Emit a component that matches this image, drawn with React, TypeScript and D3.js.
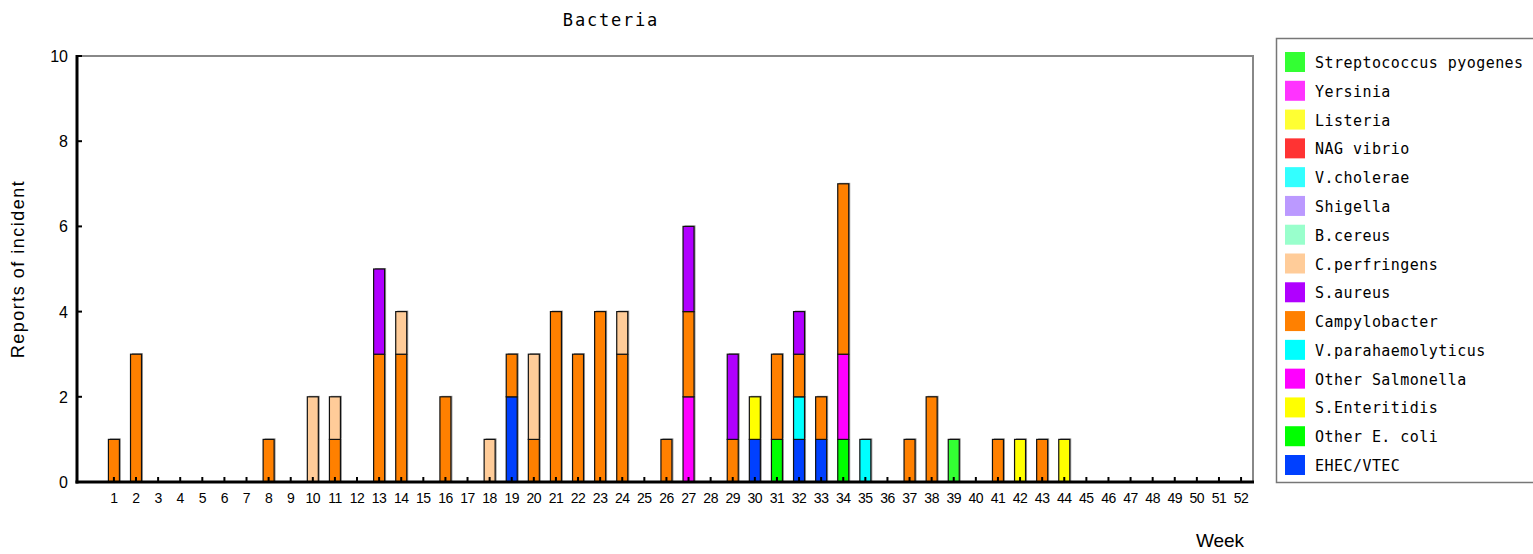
import { useEffect, useRef } from 'react';
import * as d3 from 'd3';

const W = 1533, H = 554;
const PLOT = { left: 77, right: 1253, top: 56, bottom: 482 };

const weeks = d3.range(1, 53);
const yTicks = [0, 2, 4, 6, 8, 10];

// [week, reports] per agent
const ehecVtec = [[19, 2], [30, 1], [32, 1], [33, 1]];
const otherEcoli = [[31, 1], [34, 1]];
const sEnteritidis = [[30, 1], [42, 1], [44, 1]];
const otherSalmonella = [[27, 2], [34, 2]];
const vParahaemolyticus = [[32, 1], [35, 1]];
const campylobacter = [
  [1, 1], [2, 3], [8, 1], [11, 1], [13, 3], [14, 3], [16, 2], [19, 1], [20, 1], [21, 4],
  [22, 3], [23, 4], [24, 3], [26, 1], [27, 2], [29, 1], [31, 2], [32, 1], [33, 1], [34, 4],
  [37, 1], [38, 2], [41, 1], [43, 1],
];
const sAureus = [[13, 2], [27, 2], [29, 2], [32, 1]];
const cPerfringens = [[10, 2], [11, 1], [14, 1], [18, 1], [20, 2], [24, 1]];
const bCereus: number[][] = [];
const shigella: number[][] = [];
const vCholerae: number[][] = [];
const nagVibrio: number[][] = [];
const listeria: number[][] = [];
const yersinia: number[][] = [];
const streptococcus = [[39, 1]];

// stacking order, bottom first
const series = [
  { name: 'EHEC/VTEC', color: '#0040ff', data: ehecVtec },
  { name: 'Other E. coli', color: '#00ff00', data: otherEcoli },
  { name: 'S.Enteritidis', color: '#ffff00', data: sEnteritidis },
  { name: 'Other Salmonella', color: '#ff00ff', data: otherSalmonella },
  { name: 'V.parahaemolyticus', color: '#00ffff', data: vParahaemolyticus },
  { name: 'Campylobacter', color: '#ff8000', data: campylobacter },
  { name: 'S.aureus', color: '#b000ff', data: sAureus },
  { name: 'C.perfringens', color: '#ffcc99', data: cPerfringens },
  { name: 'B.cereus', color: '#99ffcc', data: bCereus },
  { name: 'Shigella', color: '#bb99ff', data: shigella },
  { name: 'V.cholerae', color: '#33ffff', data: vCholerae },
  { name: 'NAG vibrio', color: '#ff3333', data: nagVibrio },
  { name: 'Listeria', color: '#ffff33', data: listeria },
  { name: 'Yersinia', color: '#ff33ff', data: yersinia },
  { name: 'Streptococcus pyogenes', color: '#33ff33', data: streptococcus },
];

export default function App() {
  const svgRef = useRef<SVGSVGElement>(null);

  useEffect(() => {
    document.body.style.margin = '0';
    const svg = d3.select(svgRef.current);
    svg.selectAll('*').remove();

    const table = weeks.map(w => {
      const row: any = { week: w };
      series.forEach(s => {
        const hit = s.data.find(d => d[0] === w);
        row[s.name] = hit ? hit[1] : 0;
      });
      return row;
    });
    const stacked = d3.stack().keys(series.map(s => s.name))(table);

    const x = d3.scaleLinear().domain([-0.67, 52.54]).range([PLOT.left, PLOT.right]);
    const y = d3.scaleLinear().domain([0, 10]).range([PLOT.bottom, PLOT.top]);
    const bw = 11;

    svg.append('rect').attr('width', W).attr('height', H).attr('fill', '#fff');

    // frame: gray top/right
    svg.append('path')
      .attr('d', `M${PLOT.left},${PLOT.top}H${PLOT.right}V${PLOT.bottom}`)
      .attr('fill', 'none').attr('stroke', '#888').attr('stroke-width', 2);

    // bars (gray drop shadow first, then fills)
    const bars = svg.append('g');
    stacked.forEach(layer => {
      layer.forEach((d, i) => {
        if (d[1] - d[0] <= 0) return;
        const cx = x(weeks[i]);
        bars.append('rect')
          .attr('x', cx - bw / 2 + 1.5).attr('y', y(d[1]) - 1)
          .attr('width', bw).attr('height', y(d[0]) - y(d[1]))
          .attr('fill', '#999');
      });
    });
    stacked.forEach((layer, li) => {
      layer.forEach((d, i) => {
        if (d[1] - d[0] <= 0) return;
        const cx = x(weeks[i]);
        bars.append('rect')
          .attr('x', cx - bw / 2).attr('y', y(d[1]))
          .attr('width', bw).attr('height', y(d[0]) - y(d[1]))
          .attr('fill', series[li].color)
          .attr('stroke', '#111').attr('stroke-width', 1.2);
      });
    });

    // axes
    svg.append('line').attr('x1', PLOT.left).attr('x2', PLOT.left)
      .attr('y1', PLOT.top - 1).attr('y2', PLOT.bottom + 1.5)
      .attr('stroke', '#000').attr('stroke-width', 3);
    svg.append('line').attr('x1', PLOT.left - 1.5).attr('x2', PLOT.right + 1)
      .attr('y1', PLOT.bottom).attr('y2', PLOT.bottom)
      .attr('stroke', '#000').attr('stroke-width', 3);

    yTicks.forEach(t => {
      svg.append('line').attr('x1', PLOT.left).attr('x2', PLOT.left + 5)
        .attr('y1', y(t)).attr('y2', y(t)).attr('stroke', '#000').attr('stroke-width', 2);
      svg.append('text').attr('x', 68).attr('y', y(t) + 6)
        .attr('text-anchor', 'end').attr('font-family', 'Liberation Sans, Arial, sans-serif')
        .attr('font-size', 16).attr('fill', '#000').text(t);
    });

    weeks.forEach(w => {
      svg.append('line').attr('x1', x(w)).attr('x2', x(w))
        .attr('y1', PLOT.bottom).attr('y2', PLOT.bottom - 5)
        .attr('stroke', '#000').attr('stroke-width', 2);
      svg.append('text').attr('x', x(w)).attr('y', 503)
        .attr('text-anchor', 'middle').attr('font-family', 'Liberation Sans, Arial, sans-serif')
        .attr('font-size', 14).attr('letter-spacing', -0.5).attr('fill', '#000').text(w);
    });

    // titles
    svg.append('text').attr('x', 611).attr('y', 26)
      .attr('text-anchor', 'middle').attr('font-family', 'DejaVu Sans Mono, monospace')
      .attr('font-size', 17).attr('letter-spacing', 1.8).attr('fill', '#000').text('Bacteria');
    svg.append('text').attr('transform', `translate(24,${(PLOT.top + PLOT.bottom) / 2}) rotate(-90)`)
      .attr('text-anchor', 'middle').attr('font-family', 'Liberation Sans, Arial, sans-serif')
      .attr('font-size', 18).attr('letter-spacing', 1.5).attr('fill', '#000').text('Reports of incident');
    svg.append('text').attr('x', 1220).attr('y', 547)
      .attr('text-anchor', 'middle').attr('font-family', 'Liberation Sans, Arial, sans-serif')
      .attr('font-size', 19).attr('fill', '#000').text('Week');

    // legend
    svg.append('rect').attr('x', 1276.5).attr('y', 38.5).attr('width', 270).attr('height', 444)
      .attr('fill', '#fff').attr('stroke', '#777').attr('stroke-width', 1.5);
    const legendItems = series.slice().reverse();
    const ly = d3.scalePoint().domain(legendItems.map(s => s.name)).range([62, 465]);
    legendItems.forEach(s => {
      const cy = ly(s.name)!;
      svg.append('rect').attr('x', 1285).attr('y', cy - 10).attr('width', 20).attr('height', 20)
        .attr('fill', s.color);
      svg.append('text').attr('x', 1315).attr('y', cy + 6)
        .attr('font-family', 'DejaVu Sans Mono, monospace').attr('font-size', 15)
        .attr('letter-spacing', 0.45).attr('fill', '#000').text(s.name);
    });
  }, []);

  return <svg ref={svgRef} width={W} height={H} style={{ display: 'block' }} />;
}
